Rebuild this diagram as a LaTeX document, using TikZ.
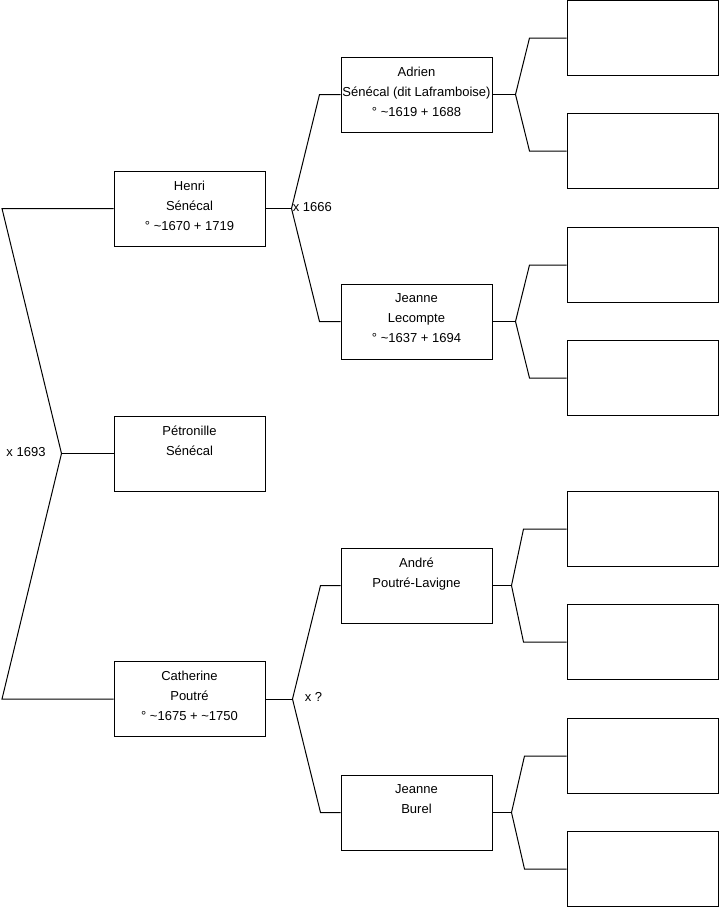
\documentclass[tikz,border=0pt]{standalone}
\usepackage{fontspec}
\setmainfont{Liberation Sans}

\begin{document}
\begin{tikzpicture}[x=0.75pt,y=-0.75pt,line width=0.75pt,
  font=\fontsize{9.75}{15}\selectfont,
  person/.style={draw,rectangle,minimum width=113.25pt,minimum height=56.25pt,
    inner sep=0pt,align=center,execute at begin node=\rule{0pt}{13.5pt},execute at end node=\strut},
  marr/.style={inner sep=1pt}]
\useasboundingbox (0,0) rectangle (719,908);

% generation 1
\node[person] (henri) at (189.5,208.5) {Henri\\Sénécal\\° \textasciitilde1670 + 1719};
\node[person] (petro) at (189.5,453.5) {Pétronille\\Sénécal\\\mbox{}};
\node[person] (cath) at (189.5,699) {Catherine\\Poutré\\° \textasciitilde1675 + \textasciitilde1750};

% generation 2
\node[person] (adrien) at (416.5,94.5)
  {Adrien\\\makebox[0pt]{Sénécal (dit Laframboise)}\\° \textasciitilde1619 + 1688};
\node[person] (lecompte) at (416.5,321.5) {Jeanne\\Lecompte\\° \textasciitilde1637 + 1694};
\node[person] (andre) at (416.5,585.5) {André\\Poutré-Lavigne\\\mbox{}};
\node[person] (burel) at (416.5,812.5) {Jeanne\\Burel\\\mbox{}};

% generation 3 (empty)
\foreach \n/\y in {1/38,2/151,3/265,4/378,5/529,6/642,7/756,8/869}
  \node[person] (g\n) at (642.5,\y) {};

% root fork
\coordinate (r) at (2,0);
\draw (petro.west) -- ++(-52,0) coordinate (m);
\draw (henri.west) -- (henri.west -| r) -- (m) -- (cath.west -| r) -- (cath.west);

% parent forks
\foreach \p/\a/\b/\d/\e in {henri/adrien/lecompte/26/28, cath/andre/burel/27/28,
    adrien/g1/g2/23/14, lecompte/g3/g4/23/14, andre/g5/g6/19/12, burel/g7/g8/19/13}{
  \draw (\p.east) -- ++(\d,0) coordinate (f) ++(\e,0) coordinate (k);
  \draw (\a.west) -- (\a.west -| k) -- (f) -- (\b.west -| k) -- (\b.west);
}

% marriages
\node[marr] (x1693) at (26,452) {x 1693};
\node[marr,anchor=west] (x1666) at (291,207) {x 1666};
\node[marr,anchor=west] (xq) at (303,697) {x ?};
\end{tikzpicture}
\end{document}
